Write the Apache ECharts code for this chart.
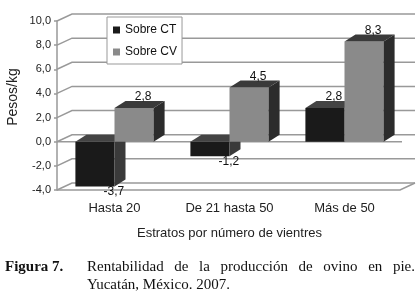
<!DOCTYPE html>
<html>
<head>
  <meta charset="utf-8">
  <title>Rentabilidad ovino</title>
  <script src="https://cdn.jsdelivr.net/npm/echarts@6/dist/echarts.min.js"></script>
  <style>
    html, body { margin: 0; padding: 0; background: #fff; }
  </style>
</head>
<body>
  <div id="main" style="width: 419px;height:296px;"></div>

  <script>
    const categories = ['Hasta 20', 'De 21 hasta 50', 'Más de 50'];
    const sobreCT = [-3.7, -1.2, 2.8];
    const sobreCV = [2.8, 4.5, 8.3];
    const yTicks = [-4, -2, 0, 2, 4, 6, 8, 10];

    const SANS = '"Liberation Sans", Arial, sans-serif';
    const SERIF = '"Liberation Serif", "Times New Roman", serif';
    const BAR_DX = 11, BAR_DY = -7;   // profundidad de las barras
    const WALL_DX = 15, WALL_DY = -7; // profundidad de la pared
    const LINE = '#999999';

    const fmt = v => v.toFixed(1).replace('.', ',');

    // barra "3D": cara frontal, lateral y superior
    function barItem(side, front, sideColor, topColor) {
      return function (params, api) {
        const cat = api.value(0), v = api.value(1);
        const c = api.coord([cat, v]);
        const z = api.coord([cat, 0]);
        const w = api.size([1, 0])[0] * 0.34;
        const x0 = side < 0 ? c[0] - w : c[0];
        const x1 = x0 + w;
        const yTop = Math.min(c[1], z[1]);
        const yBot = Math.max(c[1], z[1]);
        const label = v >= 0
          ? { x: x0 + w / 2 + 9, y: yTop - 11 }
          : { x: x0 + w / 2 + 19, y: yBot + 5 };
        return {
          type: 'group',
          children: [
            { type: 'rect', shape: { x: x0, y: yTop, width: w, height: yBot - yTop },
              style: { fill: front } },
            { type: 'polygon', shape: { points: [[x1, yTop], [x1 + BAR_DX, yTop + BAR_DY],
                [x1 + BAR_DX, yBot + BAR_DY], [x1, yBot]] }, style: { fill: sideColor } },
            { type: 'polygon', shape: { points: [[x0, yTop], [x1, yTop],
                [x1 + BAR_DX, yTop + BAR_DY], [x0 + BAR_DX, yTop + BAR_DY]] }, style: { fill: topColor } },
            { type: 'text', x: label.x, y: label.y,
              style: { text: fmt(v), fill: '#111', font: '12px ' + SANS,
                       align: 'center', verticalAlign: 'middle' } }
          ]
        };
      };
    }

    function wallItem(params, api) {
      const cs = params.coordSys;
      const v = api.value(1);
      const y = api.coord([0, v])[1];
      const x0 = cs.x, xR = cs.x + cs.width;
      const style = { stroke: LINE, lineWidth: 1.5, fill: null };
      const children = [{
        type: 'polyline',
        shape: { points: [[x0, y], [x0 + WALL_DX, y + WALL_DY], [xR + WALL_DX - 2, y + WALL_DY]] },
        style: style
      }];
      if (v === 0) {
        children.push({ type: 'line', shape: { x1: x0, y1: y, x2: xR, y2: y }, style: style });
      }
      if (v === yTicks[0]) {
        children.push({ type: 'polyline',
          shape: { points: [[x0, y], [xR - 2, y], [xR + WALL_DX - 2, y + WALL_DY]] }, style: style });
      }
      return { type: 'group', children: children };
    }

    // pie de figura, primera línea justificada
    const ctx = document.createElement('canvas').getContext('2d');
    ctx.font = '15px ' + SERIF;
    const words = 'Rentabilidad de la producción de ovino en pie.'.split(' ');
    const widths = words.map(w => ctx.measureText(w).width);
    const gap = (415 - 87 - widths.reduce((a, b) => a + b, 0)) / (words.length - 1);
    const caption = [];
    let cx = 87;
    words.forEach((w, i) => {
      caption.push({ type: 'text', x: cx, y: 267,
        style: { text: w, font: '15px ' + SERIF, fill: '#111', verticalAlign: 'middle' } });
      cx += widths[i] + gap;
    });
    caption.push({ type: 'text', x: 87, y: 285,
      style: { text: 'Yucatán, México. 2007.', font: '15px ' + SERIF, fill: '#111', verticalAlign: 'middle' } });
    caption.push({ type: 'text', x: 5, y: 267,
      style: { text: 'Figura 7.', font: 'bold 15px ' + SERIF, fill: '#111', verticalAlign: 'middle' } });
    caption.push({ type: 'text', x: 13, y: 97, rotation: Math.PI / 2,
      style: { text: 'Pesos/kg', font: '14px ' + SANS, fill: '#222', align: 'center', verticalAlign: 'middle' } });

    const chart = echarts.init(document.getElementById('main'));
    const option = {
      animation: false,
      textStyle: { fontFamily: SANS },
      grid: { left: 57, right: 17, top: 21, bottom: 106 },
      legend: {
        data: ['Sobre CT', 'Sobre CV'],
        orient: 'vertical', left: 107, top: 17,
        icon: 'rect', itemWidth: 7, itemHeight: 7, itemGap: 10,
        padding: [7, 5, 6, 6],
        backgroundColor: '#fff', borderColor: '#999', borderWidth: 1,
        textStyle: { fontSize: 12, color: '#111', fontFamily: SANS }
      },
      xAxis: {
        type: 'category', data: categories,
        axisLine: { show: false }, axisTick: { show: false },
        axisLabel: { margin: 12, fontSize: 13, color: '#222' },
        name: 'Estratos por número de vientres', nameLocation: 'middle', nameGap: 37,
        nameTextStyle: { fontSize: 13, color: '#222' }
      },
      yAxis: {
        type: 'value', min: yTicks[0], max: yTicks[yTicks.length - 1], interval: 2,
        splitLine: { show: false },
        axisLine: { show: true, lineStyle: { color: LINE, width: 1.5 } },
        axisTick: { show: true, length: 3, lineStyle: { color: LINE, width: 1.5 } },
        axisLabel: { margin: 6, fontSize: 11, color: '#222', formatter: fmt }
      },
      graphic: caption,
      series: [
        { type: 'custom', name: 'walls', z: 1, silent: true,
          renderItem: wallItem, data: yTicks.map(v => [0, v]) },
        { type: 'custom', name: 'Sobre CT', z: 2,
          itemStyle: { color: '#1a1a1a' },
          renderItem: barItem(-1, '#1a1a1a', '#3a3a3a', '#444444'),
          data: sobreCT.map((v, i) => [i, v]) },
        { type: 'custom', name: 'Sobre CV', z: 3,
          itemStyle: { color: '#8a8a8a' },
          renderItem: barItem(1, '#8a8a8a', '#2c2c2c', '#3a3a3a'),
          data: sobreCV.map((v, i) => [i, v]) }
      ]
    };
    chart.setOption(option);
  </script>
</body>
</html>
